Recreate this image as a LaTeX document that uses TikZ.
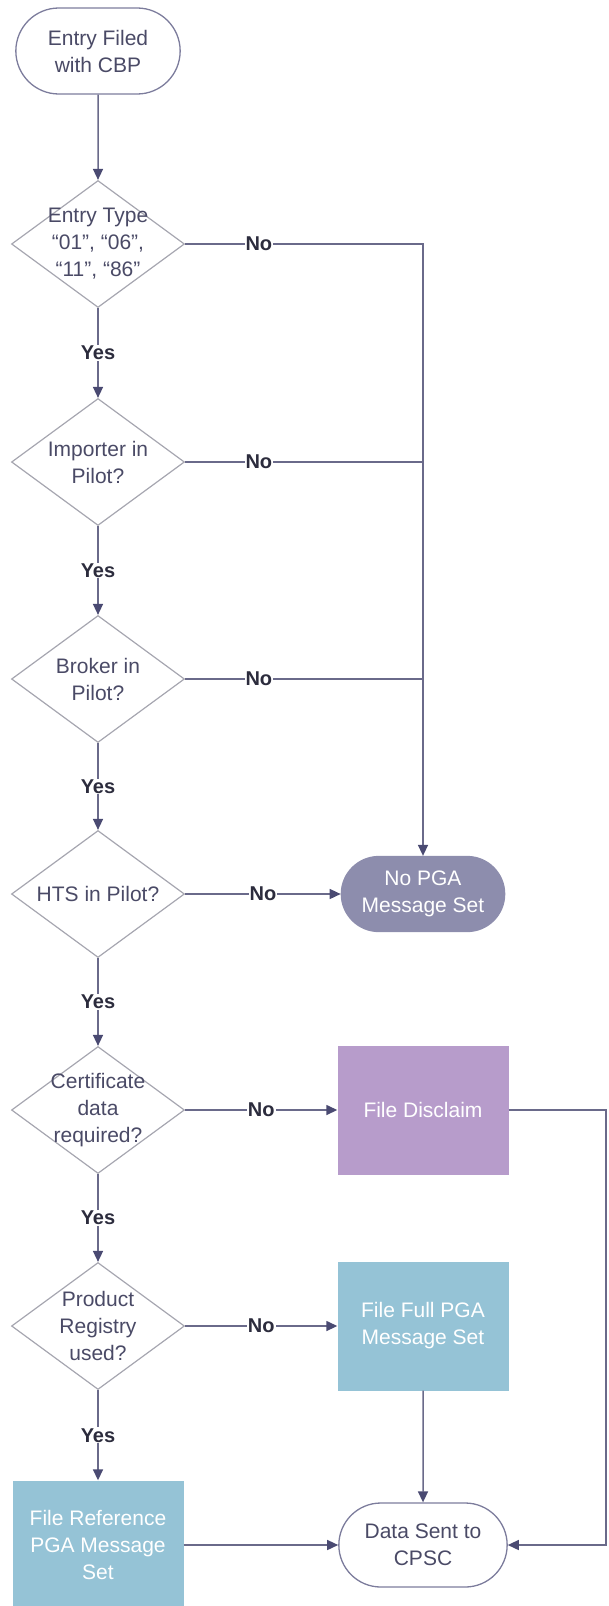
\documentclass[tikz,border=0pt]{standalone}
\usepackage{fontspec}
\setmainfont{Liberation Sans}
\usetikzlibrary{shapes,arrows.meta,positioning}

\definecolor{linecol}{HTML}{6A6A8A}
\definecolor{tipcol}{HTML}{4A4A72}
\definecolor{diamcol}{HTML}{A6A6B0}
\definecolor{termcol}{HTML}{7C7C9C}
\definecolor{textcol}{HTML}{4A4A66}
\definecolor{nopgacol}{HTML}{8D8DAD}
\definecolor{disclaimcol}{HTML}{B79CCB}
\definecolor{filecol}{HTML}{95C3D6}

\begin{document}
\begin{tikzpicture}[x=1pt, y=-1pt, font=\fontsize{21}{27}\selectfont]
        \tikzstyle{decision} = [diamond, draw=diamcol, line width=1.2pt, minimum width=173pt, minimum height=127pt, inner sep=0pt]
        \tikzstyle{qtext} = [text=textcol, align=center]
        \tikzstyle{terminal} = [rounded rectangle, draw=termcol, line width=1.3pt, text=textcol, align=center, minimum width=171pt, minimum height=86pt]
        \tikzstyle{block} = [rectangle, text=white, align=center, minimum width=171pt, minimum height=129pt]
        \tikzstyle{line} = [draw=linecol, line width=1.5pt, -{Triangle[length=11pt,width=10pt,color=tipcol]}]
        \tikzstyle{plain} = [draw=linecol, line width=1.5pt]
        \tikzstyle{answer} = [fill=white, text=textcol!60!black, font=\fontsize{20}{22}\selectfont\bfseries, inner sep=1pt]

        \useasboundingbox (0,0) rectangle (608,1606);

        % left column: checks
        \node [terminal] (entry) at (98,51) {Entry Filed\\with CBP};
        \node [decision, label={[qtext]center:{Entry Type\\“01”, “06”,\\“11”, “86”}}] (type) at (98,244) {};
        \node [decision, label={[qtext]center:{Importer in\\Pilot?}}] (importer) at (98,462) {};
        \node [decision, label={[qtext]center:{Broker in\\Pilot?}}] (broker) at (98,679) {};
        \node [decision, label={[qtext]center:{HTS in Pilot?}}] (hts) at (98,894) {};
        \node [decision, label={[qtext]center:{Certificate\\data\\required?}}] (cert) at (98,1110) {};
        \node [decision, label={[qtext]center:{Product\\Registry\\used?}}] (registry) at (98,1326) {};
        \node [block, fill=filecol] (reference) at (98,1545) {File Reference\\PGA Message\\Set};

        % right column: outcomes
        \node [terminal, fill=nopgacol, draw=nopgacol, text=white, minimum width=170pt, minimum height=75pt] (nopga) at (423,894) {No PGA\\Message Set};
        \node [block, fill=disclaimcol] (disclaim) at (423,1110) {File Disclaim};
        \node [block, fill=filecol] (fullset) at (423,1326) {File Full PGA\\Message Set};
        \node [terminal, minimum width=175pt, minimum height=84pt] (sent) at (423,1545) {Data Sent to\\CPSC};
        \coordinate (rightedge) at (606,1110);

        \path [line] (entry) -- (type);
        \path [line] (type) -- node [answer] {Yes} (importer);
        \path [line] (importer) -- node [answer] {Yes} (broker);
        \path [line] (broker) -- node [answer] {Yes} (hts);
        \path [line] (hts) -- node [answer] {Yes} (cert);
        \path [line] (cert) -- node [answer] {Yes} (registry);
        \path [line] (registry) -- node [answer] {Yes} (reference);

        \path [line] (type.east) -| node [answer, pos=0.155] {No} (nopga.north);
        \path [plain] (importer.east) -- node [answer, pos=0.31] {No} (importer.east -| nopga.north);
        \path [plain] (broker.east) -- node [answer, pos=0.31] {No} (broker.east -| nopga.north);
        \path [line] (hts.east) -- node [answer] {No} (nopga.west);
        \path [line] (cert.east) -- node [answer] {No} (disclaim.west);
        \path [line] (registry.east) -- node [answer] {No} (fullset.west);

        \path [line] (disclaim.east) -- (rightedge) |- (sent.east);
        \path [line] (fullset) -- (sent);
        \path [line] (reference) -- (sent);
    \end{tikzpicture}
\end{document}
